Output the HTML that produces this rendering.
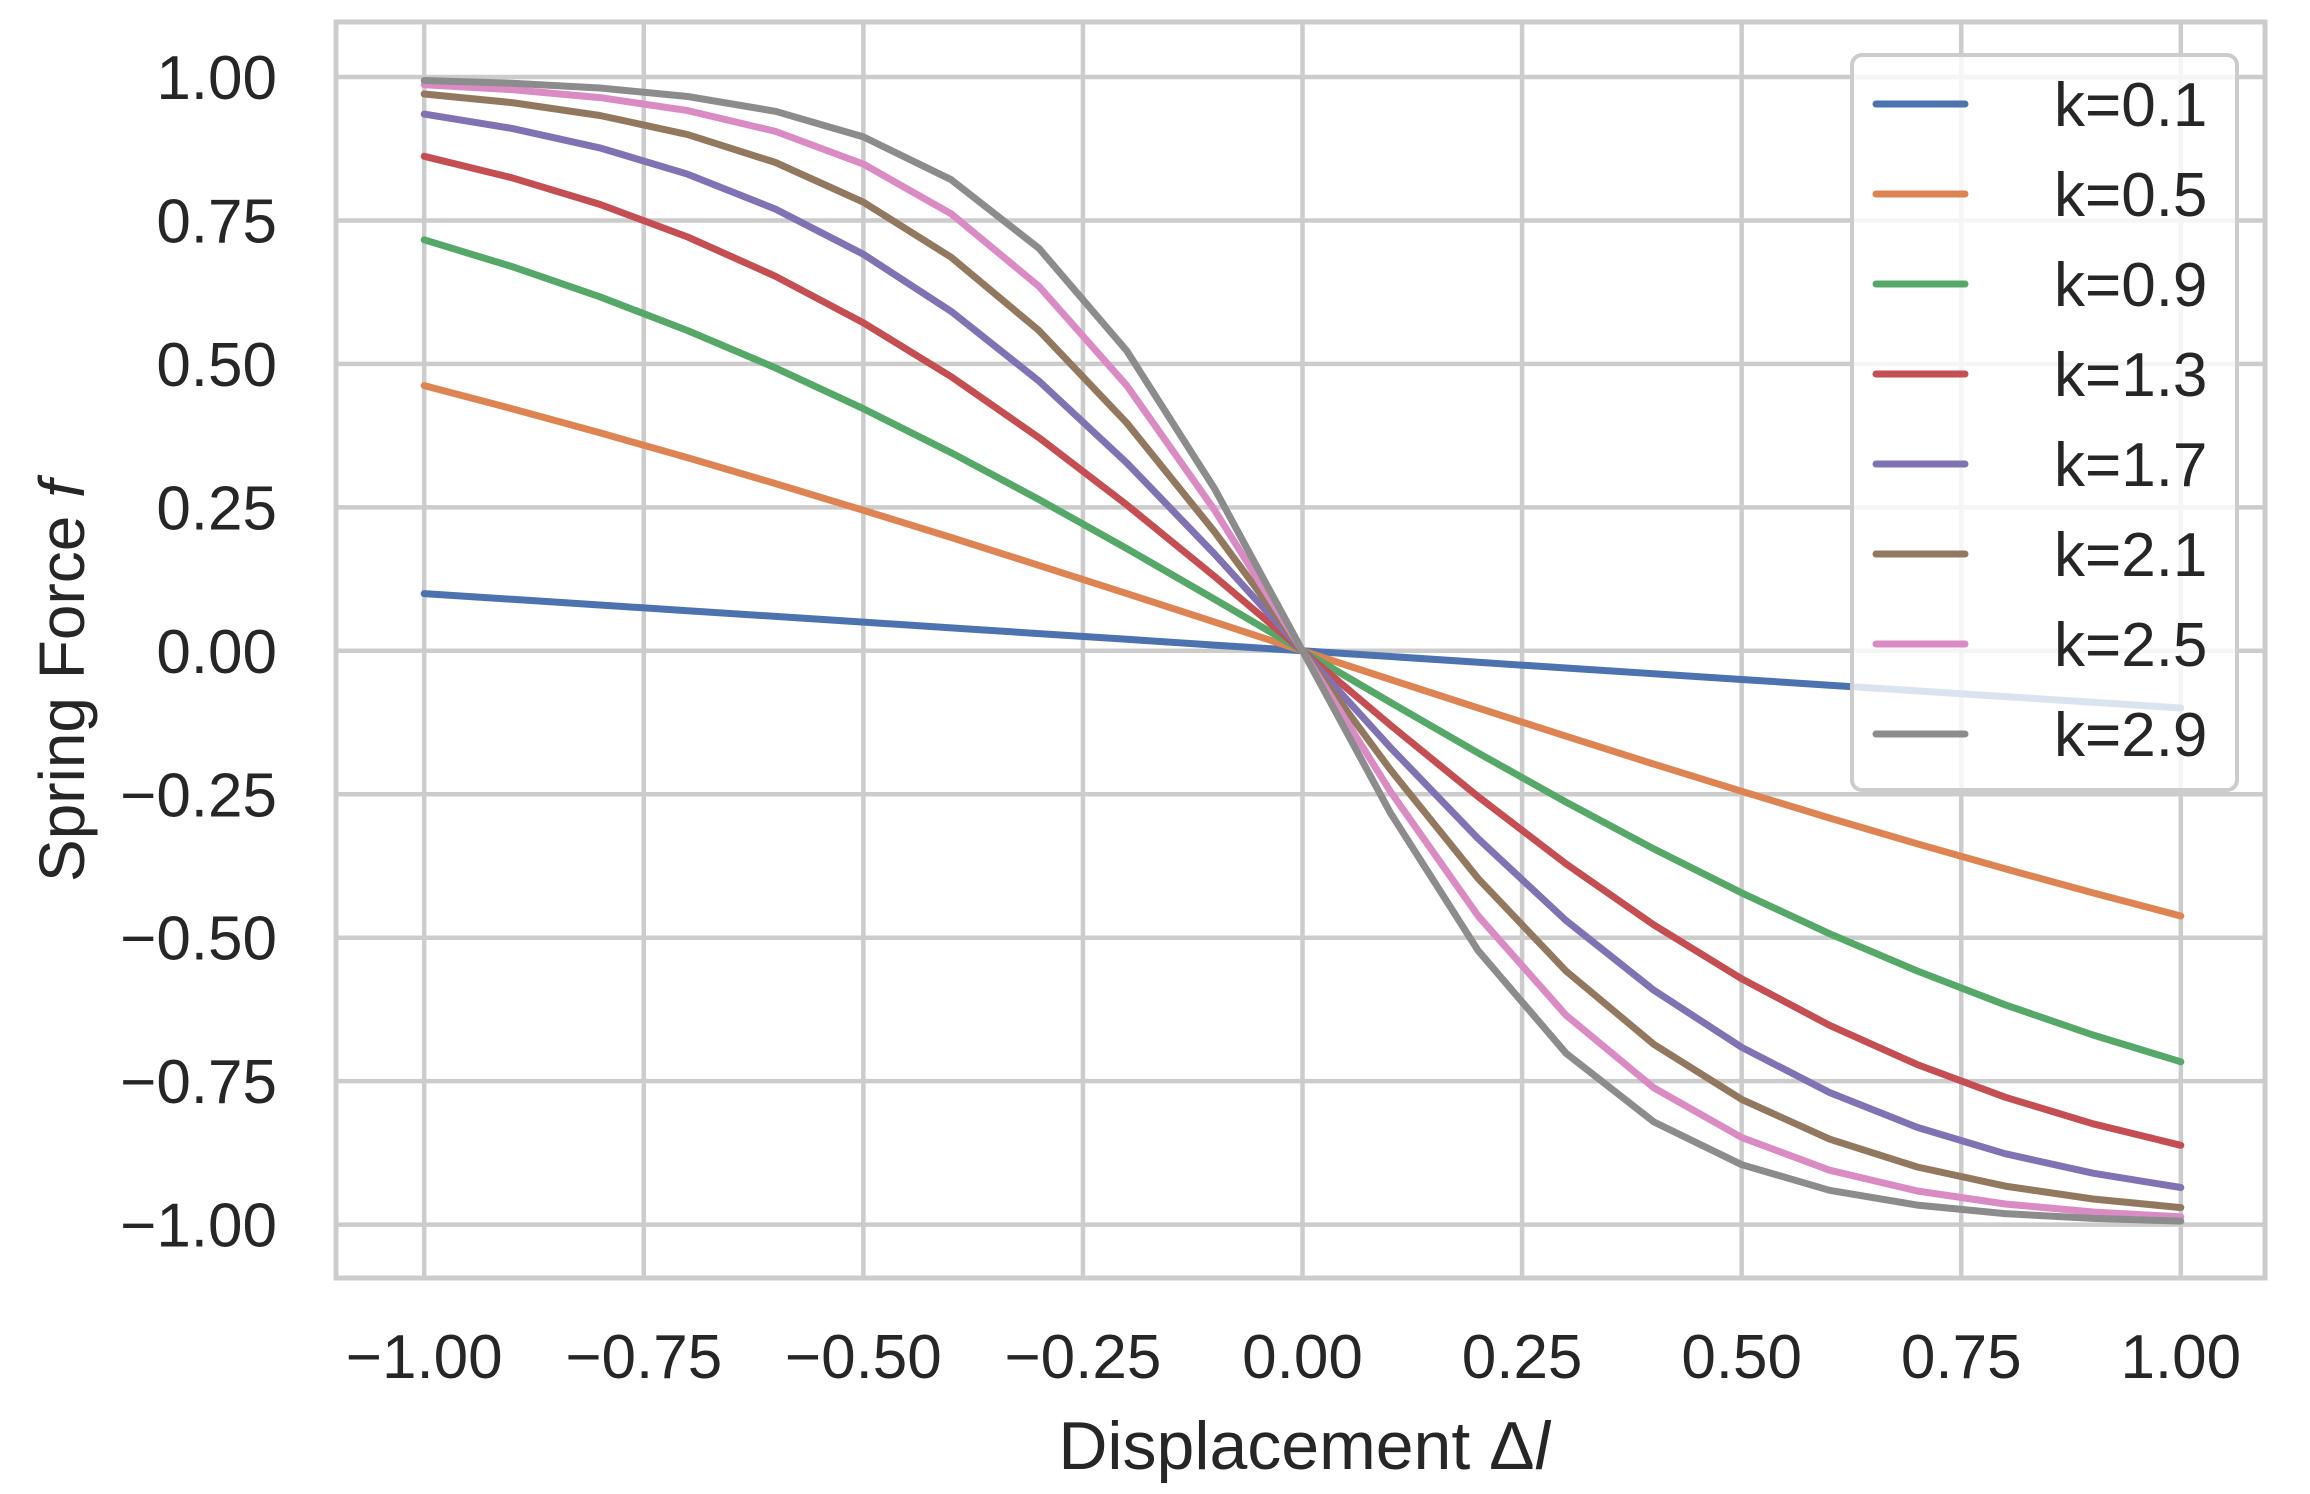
<!DOCTYPE html>
<html><head><meta charset="utf-8"><style>
html,body{margin:0;padding:0;background:#fff;}
svg{display:block;}
text{font-family:"Liberation Sans",sans-serif;fill:#262626;}
</style></head><body>
<svg id="s" width="2310" height="1494" viewBox="0 0 2310 1494" xmlns="http://www.w3.org/2000/svg">
<g id="grid" stroke="#cccccc" stroke-width="4.5"></g>
<rect x="336" y="22" width="1929" height="1256" fill="none" stroke="#cccccc" stroke-width="5"/>
<g id="lines" fill="none" stroke-width="7" stroke-linecap="round" stroke-linejoin="round"></g>
<g id="ticks" font-size="62"></g>
<text x="1304" y="1469" font-size="68" text-anchor="middle">Displacement Δ<tspan font-style="italic">l</tspan></text>
<text transform="translate(84,681) rotate(-90)" font-size="64" text-anchor="middle">Spring Force <tspan font-style="italic">f</tspan></text>
<rect x="1852" y="55" width="385" height="735" rx="10" fill="#ffffff" fill-opacity="0.8" stroke="#cccccc" stroke-width="4"/>
<g id="leg" font-size="62"></g>
</svg>
<script>
var X=function(v){return 1302.5+v*878.3;},Y=function(v){return 650.8-v*573.8;};
var g=document.getElementById('grid'),t=document.getElementById('ticks'),l=document.getElementById('lines'),lg=document.getElementById('leg');
var NS='http://www.w3.org/2000/svg';
function el(p,n,a,txt){var e=document.createElementNS(NS,n);for(var k in a)e.setAttribute(k,a[k]);if(txt)e.textContent=txt;p.appendChild(e);return e;}
var vals=[-1,-0.75,-0.5,-0.25,0,0.25,0.5,0.75,1];
vals.forEach(function(v){
 var lab=(v<0?'\u2212':'')+Math.abs(v).toFixed(2);
 el(g,'line',{x1:X(v),x2:X(v),y1:22,y2:1278});
 el(g,'line',{x1:336,x2:2265,y1:Y(v),y2:Y(v)});
 el(t,'text',{x:X(v),y:1378,'text-anchor':'middle'},lab);
 el(t,'text',{x:277,y:Y(v)+22,'text-anchor':'end'},lab);
});
var ks=[0.1,0.5,0.9,1.3,1.7,2.1,2.5,2.9];
var cols=['#4C72B0','#DD8452','#55A868','#C44E52','#8172B3','#937860','#DA8BC3','#8C8C8C'];
ks.forEach(function(k,i){
 var pts=[];for(var j=0;j<=20;j++){var x=-1+j*0.1;pts.push(X(x).toFixed(1)+','+Y(-Math.tanh(k*x)).toFixed(1));}
 el(l,'polyline',{points:pts.join(' '),stroke:cols[i]});
 var yy=104+i*90;
 el(lg,'line',{x1:1876,x2:1965,y1:yy,y2:yy,stroke:cols[i],'stroke-width':7,'stroke-linecap':'round'});
 el(lg,'text',{x:2054,y:yy+22},'k='+k.toFixed(1));
});
</script>
</body></html>
